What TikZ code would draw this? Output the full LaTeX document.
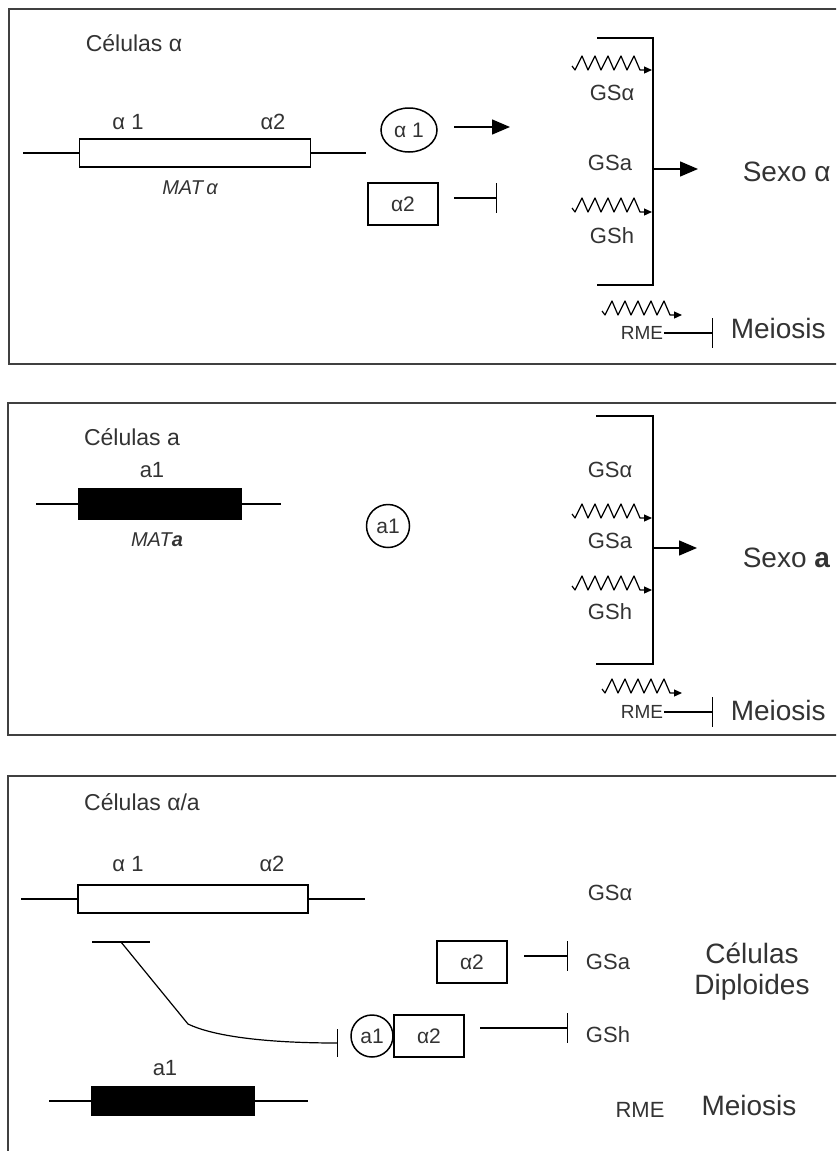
\documentclass[tikz,border=0pt]{standalone}
\usepackage{fontspec}
\setmainfont{Liberation Sans}
\usetikzlibrary{arrows.meta,calc,shapes.geometric}
\newcommand{\fs}[1]{\fontsize{#1}{#1}\selectfont}
\newcommand{\spring}[1]{\draw[spr] ($(#1)+(-80,-4)$) -- ++(3,4) \foreach \k in {1,...,5}{ -- ++(7,-14) -- ++(6,14)} -- (#1);}
\begin{document}
\begin{tikzpicture}[x=1pt,y=-1pt,line width=1.5pt,
  txt/.style={inner sep=0pt,text=black!80,font=\fs{22}},
  gene/.style={draw,minimum width=231pt,minimum height=28pt,inner sep=0pt},
  mgene/.style={draw,fill=black,minimum width=162pt,minimum height=30pt,inner sep=0pt},
  prot/.style={draw,minimum width=70pt,minimum height=42pt,inner sep=0pt,text=black!80,font=\fs{21}},
  rnd/.style={draw,circle,minimum size=43pt,inner sep=0pt,text=black!80,font=\fs{21}},
  panel/.style={draw=black!75,line width=2pt},
  act/.style={-{Triangle[length=18pt,width=15pt]}},
  inh/.style={-{Bar[width=30pt]}},
  spr/.style={line width=1.2pt,line join=round,-{Triangle[length=8pt,width=7pt]}}]
\useasboundingbox (0,0) rectangle (836,1151);
\clip (0,0) rectangle (836,1151);
% panel 1: alpha cells
\draw[panel] (9,9) rectangle (900,364);
\node[txt,font=\fs{23}] (t1) at (134,43) {Células α};
\node[gene] (g1) at (195,153) {};
\coordinate (g1l) at (23,153); \coordinate (g1r) at (366,153);
\draw (g1l) -- (g1.west) (g1.east) -- (g1r);
\node[txt] (g1a) at (128,122) {α 1};
\node[txt] (g1b) at (273,122) {α2};
\node[txt,font=\fs{20}\itshape] (g1n) at (190,188) {MAT\,α};
\node[rnd,ellipse,minimum width=56pt,minimum height=44pt] (p1) at (409,130) {α 1};
\coordinate (p1a) at (454,127); \coordinate (p1b) at (510,127);
\draw[act] (p1a) -- (p1b);
\node[prot] (p2) at (403,204) {α2};
\coordinate (p2a) at (454,198); \coordinate (p2b) at (497,198);
\draw[inh] (p2a) -- (p2b);
\coordinate (b1t) at (597,38); \coordinate (b1b) at (597,285);
\draw (b1t) -- (653,38) -- (653,285) -- (b1b);
\coordinate (s1) at (652,70); \spring{s1}
\node[txt] (l1) at (612,93) {GSα};
\node[txt] (l2) at (610,163) {GSa};
\coordinate (s3) at (652,212); \spring{s3}
\node[txt] (l3) at (612,236) {GSh};
\coordinate (o1a) at (653,169); \coordinate (o1b) at (698,169);
\draw[act] (o1a) -- (o1b);
\node[txt,font=\fs{28},anchor=west] (sx1) at (742,172) {Sexo α};
\coordinate (r1) at (682,315); \spring{r1}
\node[txt,font=\fs{19}] (rme1) at (642,333) {RME};
\coordinate (r1b) at (713,333);
\draw[inh] (rme1.east) -- (r1b);
\node[txt,font=\fs{28},anchor=west] (m1) at (730,328) {Meiosis};
% panel 2: a cells
\draw[panel] (8,403) rectangle (900,735);
\node[txt,font=\fs{23}] (t2) at (132,437) {Células a};
\node[txt] (g2a) at (152,470) {a1};
\node[mgene] (g2) at (160,504) {};
\coordinate (g2l) at (36,504); \coordinate (g2r) at (281,504);
\draw (g2l) -- (g2.west) (g2.east) -- (g2r);
\node[txt,font=\fs{20}\itshape] (g2n) at (157,540) {MAT\textbf{a}};
\node[rnd] (p3) at (388,526) {a1};
\coordinate (b2t) at (596,416); \coordinate (b2b) at (596,664);
\draw (b2t) -- (653,416) -- (653,664) -- (b2b);
\node[txt] (l4) at (610,470) {GSα};
\coordinate (s5) at (652,518); \spring{s5}
\node[txt] (l5) at (610,541) {GSa};
\coordinate (s6) at (652,590); \spring{s6}
\node[txt] (l6) at (610,612) {GSh};
\coordinate (o2a) at (653,548); \coordinate (o2b) at (697,548);
\draw[act] (o2a) -- (o2b);
\node[txt,font=\fs{28},anchor=west] (sx2) at (742,558) {Sexo \textbf{a}};
\coordinate (r2) at (682,693); \spring{r2}
\node[txt,font=\fs{19}] (rme2) at (642,712) {RME};
\coordinate (r2b) at (713,712);
\draw[inh] (rme2.east) -- (r2b);
\node[txt,font=\fs{28},anchor=west] (m2) at (730,710) {Meiosis};
% panel 3: alpha/a cells
\draw[panel] (8,776) rectangle (900,1300);
\node[txt,font=\fs{23}] (t3) at (142,802) {Células α/a};
\node[txt] (g3a) at (128,864) {α 1};
\node[txt] (g3b) at (272,864) {α2};
\node[gene,minimum width=230pt] (g3) at (193,899) {};
\coordinate (g3l) at (21,899); \coordinate (g3r) at (365,899);
\draw (g3l) -- (g3.west) (g3.east) -- (g3r);
\node[txt] (l7) at (610,893) {GSα};
\coordinate (c1) at (92,942); \coordinate (c2) at (150,942);
\draw (c1) -- (c2);
\coordinate (c3) at (121,942); \coordinate (c4) at (188,1024); \coordinate (c5) at (338,1043);
\draw[line width=1.2pt,-{Bar[width=28pt]}] (c3) -- (c4) .. controls (215,1037) and (270,1043) .. (c5);
\node[rnd,minimum size=42pt] (p4) at (372,1036) {a1};
\node[prot] (p5) at (429,1036) {α2};
\node[prot] (p6) at (472,962) {α2};
\coordinate (p6a) at (524,956); \coordinate (p6b) at (568,956);
\draw[inh] (p6a) -- (p6b);
\node[txt] (l8) at (608,962) {GSa};
\coordinate (p5a) at (480,1028); \coordinate (p5b) at (568,1028);
\draw[inh] (p5a) -- (p5b);
\node[txt] (l9) at (608,1035) {GSh};
\node[txt,font=\fs{28},align=center,execute at begin node=\setlength{\baselineskip}{31pt}] (dip) at (752,972) {Células\\Diploides};
\node[txt] (g4a) at (165,1068) {a1};
\node[mgene,minimum height=28pt] (g4) at (173,1101) {};
\coordinate (g4l) at (49,1101); \coordinate (g4r) at (308,1101);
\draw (g4l) -- (g4.west) (g4.east) -- (g4r);
\node[txt,font=\fs{22}] (rme3) at (640,1110) {RME};
\node[txt,font=\fs{28}] (m3) at (749,1105) {Meiosis};
\end{tikzpicture}
\end{document}
